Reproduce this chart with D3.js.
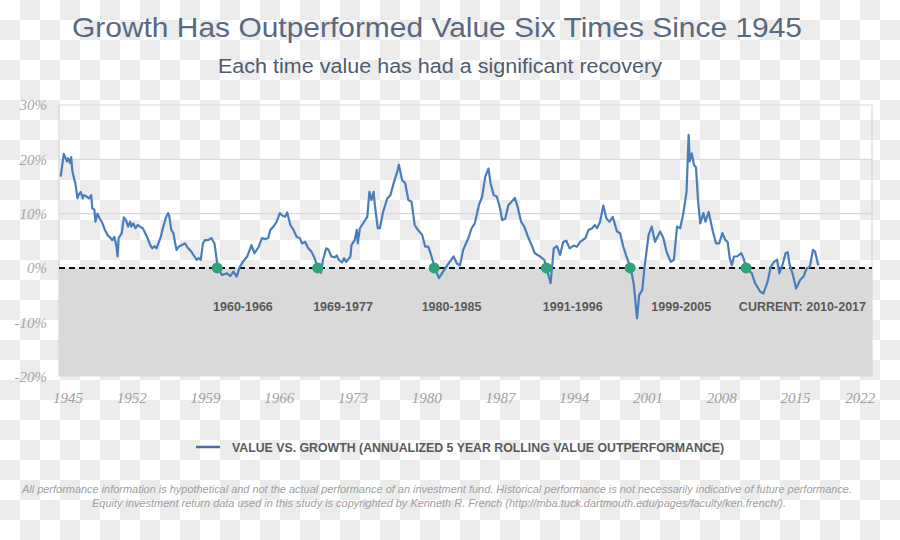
<!DOCTYPE html>
<html>
<head>
<meta charset="utf-8">
<script src="https://cdn.jsdelivr.net/npm/d3@7/dist/d3.min.js"></script>
<style>
  html, body { margin: 0; padding: 0; background: #fff; }
  svg { display: block; }
</style>
</head>
<body>
<svg id="chart" width="900" height="540"></svg>
<script>
// ---------------- DATA ----------------
const title = "Growth Has Outperformed Value Six Times Since 1945";
const subtitle = "Each time value has had a significant recovery";
const seriesName = "VALUE VS. GROWTH (ANNUALIZED 5 YEAR ROLLING VALUE OUTPERFORMANCE)";
const footnotes = [
  "All performance information is hypothetical and not the actual performance of an investment fund. Historical performance is not necessarily indicative of future performance.",
  "Equity investment return data used in this study is copyrighted by Kenneth R. French (http://mba.tuck.dartmouth.edu/pages/faculty/ken.french/)."
];
const xTicks = [1945, 1952, 1959, 1966, 1973, 1980, 1987, 1994, 2001, 2008, 2015, 2022];
const yTicks = [-20, -10, 0, 10, 20, 30];

const years = [
1945.3,1945.6,1945.9,1946.0,1946.2,1946.3,1946.4,1946.6,1946.7,1946.9,
1947.0,1947.2,1947.4,1947.5,1947.8,1948.0,1948.2,1948.3,1948.5,1948.6,
1948.8,1949.0,1949.2,1949.5,1949.8,1950.0,1950.2,1950.4,1950.6,1950.7,
1950.8,1951.1,1951.3,1951.5,1951.7,1951.9,1952.0,1952.2,1952.4,1952.6,
1952.9,1953.1,1953.5,1953.8,1954.0,1954.2,1954.4,1954.8,1955.0,1955.3,
1955.5,1955.6,1955.8,1956.0,1956.2,1956.3,1956.5,1956.8,1957.1,1957.4,
1957.7,1958.0,1958.2,1958.4,1958.6,1958.8,1959.0,1959.3,1959.6,1959.9,
1960.2,1960.6,1961.1,1961.4,1961.7,1962.0,1962.3,1962.6,1963.0,1963.3,
1963.4,1963.7,1964.1,1964.4,1964.7,1965.0,1965.2,1965.5,1965.8,1966.1,
1966.3,1966.6,1966.8,1967.1,1967.4,1967.7,1968.0,1968.2,1968.5,1968.8,
1969.1,1969.4,1969.7,1970.0,1970.2,1970.5,1970.7,1971.0,1971.3,1971.5,
1971.7,1972.0,1972.2,1972.4,1972.8,1972.9,1973.2,1973.4,1973.5,1973.7,
1974.1,1974.4,1974.6,1974.8,1975.0,1975.1,1975.4,1975.6,1975.9,1976.3,
1976.6,1976.9,1977.2,1977.4,1977.7,1978.0,1978.3,1978.6,1978.9,1979.2,
1979.6,1979.9,1980.2,1980.5,1980.8,1981.2,1981.6,1982.1,1982.6,1982.9,
1983.2,1983.5,1984.0,1984.3,1984.6,1985.0,1985.3,1985.6,1985.9,1986.1,
1986.4,1986.7,1987.0,1987.2,1987.5,1987.8,1988.1,1988.4,1988.7,1989.0,
1989.3,1989.7,1990.0,1990.3,1990.8,1991.2,1991.4,1991.8,1992.1,1992.4,
1992.7,1993.0,1993.3,1993.6,1994.0,1994.3,1994.6,1995.1,1995.4,1995.7,
1996.0,1996.2,1996.5,1996.8,1997.1,1997.4,1997.7,1998.1,1998.4,1998.7,
1999.0,1999.4,1999.7,2000.0,2000.2,2000.5,2000.7,2001.1,2001.4,2001.7,
2002.2,2002.5,2002.8,2003.2,2003.5,2003.8,2004.1,2004.4,2004.7,2004.9,
2005.0,2005.2,2005.4,2005.6,2005.8,2006.0,2006.3,2006.5,2006.8,2007.2,
2007.5,2007.8,2008.1,2008.4,2008.6,2008.8,2009.0,2009.2,2009.5,2009.9,
2010.1,2010.4,2010.9,2011.2,2011.7,2012.0,2012.4,2012.7,2013.0,2013.3,
2013.5,2013.8,2014.1,2014.3,2014.5,2014.8,2015.1,2015.5,2015.8,2016.1,
2016.4,2016.7,2016.9,2017.2
];
const values = [
16.8,21.0,19.6,20.2,19.3,20.4,18.0,16.2,15.6,12.8,
13.4,14.0,12.8,13.4,13.1,12.8,13.4,11.0,10.7,8.5,
10.0,9.1,8.5,7.0,5.9,5.6,5.1,5.7,3.9,2.1,
5.5,6.4,9.3,8.8,7.6,8.5,7.6,8.2,7.3,7.9,
7.5,7.3,5.7,4.2,3.6,4.0,3.6,5.7,7.3,9.3,
10.1,9.6,7.0,6.4,4.2,3.3,3.9,4.2,4.5,3.6,
3.0,2.1,1.5,1.8,1.5,4.5,5.1,5.1,5.5,4.5,
0.2,-1.3,-1.0,-1.5,-0.7,-1.6,0.2,1.1,2.1,3.6,
4.2,2.7,3.9,5.5,5.3,5.5,7.0,7.6,8.5,10.1,
9.7,9.4,10.2,7.9,7.0,5.7,5.5,4.5,4.8,3.6,
3.0,1.8,0.1,-0.9,1.5,3.6,3.4,2.1,1.9,2.3,
1.5,1.0,1.8,1.1,2.1,4.2,5.1,7.0,4.5,7.3,
8.5,9.4,14.0,12.5,14.0,11.9,7.3,7.3,10.3,12.8,
13.4,15.6,17.4,19.0,16.2,15.6,12.5,12.2,7.9,7.0,
6.1,3.9,3.9,2.1,0.1,-1.9,-0.7,0.8,2.1,0.8,
0.5,3.3,5.5,7.3,8.2,11.6,13.1,16.8,18.3,15.6,
13.4,13.1,11.0,8.8,9.1,11.6,12.2,12.9,11.0,8.5,
7.6,5.5,4.2,2.7,2.1,1.5,0.0,-2.8,3.6,4.0,
2.4,4.8,5.0,3.6,4.1,3.9,4.8,5.5,7.0,7.2,
7.9,7.3,8.5,11.5,9.1,8.5,9.4,6.7,6.4,3.9,
2.1,0.0,-3.1,-9.3,-5.0,-4.1,-0.1,6.1,7.6,4.8,
6.7,5.5,3.0,1.1,1.5,7.6,7.3,10.1,14.0,24.5,
19.6,21.1,19.0,18.5,12.2,8.2,10.1,8.5,10.3,6.7,
4.5,4.5,6.4,5.1,4.8,1.8,0.5,2.1,2.1,2.7,
1.8,-0.1,-1.0,-2.8,-4.4,-4.7,-2.5,0.2,1.1,1.5,
-1.0,0.5,2.7,2.9,0.5,-1.3,-3.8,-2.2,-1.6,-0.1,
0.2,3.3,3.0,0.5
];

// periods of value outperformance after growth runs
const markerYears = [1960.15, 1969.7, 1980.75, 1991.4, 1999.35, 2010.35];
const periodLabels = ["1960-1966", "1969-1977", "1980-1985", "1991-1996", "1999-2005", "CURRENT: 2010-2017"];
const periodLabelYears = [1962.6, 1972.1, 1982.4, 1993.9, 2004.2, 2015.7];
const periodLabelValue = -7.35;

// ---------------- CHART ----------------
const svg = d3.select("#chart");
const W = 900, H = 540;
const plot = { left: 59, right: 872, top: 105, bottom: 376.5 };

// checkerboard background (transparency grid of the source image)
const defs = svg.append("defs");
const pat = defs.append("pattern").attr("id", "checker")
  .attr("width", 40).attr("height", 40).attr("patternUnits", "userSpaceOnUse");
pat.append("rect").attr("width", 40).attr("height", 40).attr("fill", "#ffffff");
pat.append("rect").attr("x", 20).attr("y", 0).attr("width", 20).attr("height", 20).attr("fill", "#ececec");
pat.append("rect").attr("x", 0).attr("y", 20).attr("width", 20).attr("height", 20).attr("fill", "#ececec");
svg.append("rect").attr("width", W).attr("height", H).attr("fill", "url(#checker)");

const x = d3.scaleLinear().domain([1945, 2022.35]).range([57.5, 872.5]);
const y = d3.scaleLinear().domain([-20, 30]).range([plot.bottom, plot.top]);

// negative shaded region
svg.append("rect")
  .attr("x", plot.left).attr("y", y(0))
  .attr("width", plot.right - plot.left).attr("height", y(-20) - y(0))
  .attr("fill", "#d9d9d9");

// gridlines
svg.append("g").selectAll("line").data(yTicks.filter(d => d > 0)).join("line")
  .attr("x1", plot.left).attr("x2", plot.right)
  .attr("y1", d => y(d)).attr("y2", d => y(d))
  .attr("stroke", "#d9d9d9").attr("stroke-width", 1.2);

// plot border (left / right)
svg.append("line").attr("x1", plot.left).attr("x2", plot.left).attr("y1", plot.top).attr("y2", plot.bottom)
  .attr("stroke", "#d9d9d9").attr("stroke-width", 1.2);
svg.append("line").attr("x1", plot.right).attr("x2", plot.right).attr("y1", plot.top).attr("y2", plot.bottom)
  .attr("stroke", "#d9d9d9").attr("stroke-width", 1.2);

// y axis labels
const yAxis = d3.axisLeft(y).tickValues(yTicks).tickSize(0).tickPadding(0)
  .tickFormat(d => d + "%");
const yg = svg.append("g").attr("transform", `translate(47,0)`).call(yAxis);
yg.select(".domain").remove();
yg.selectAll("text")
  .attr("font-family", "'Liberation Serif', serif")
  .attr("font-style", "italic").attr("font-size", 15).attr("fill", "#a6a6a6");

// x axis labels
const xAxis = d3.axisBottom(x).tickValues(xTicks).tickSize(0).tickPadding(0)
  .tickFormat(d3.format("d"));
const xg = svg.append("g").attr("transform", `translate(0,392)`).call(xAxis);
xg.select(".domain").remove();
xg.selectAll("text")
  .attr("font-family", "'Liberation Serif', serif")
  .attr("font-style", "italic").attr("font-size", 15).attr("fill", "#a0a0a0")
  .attr("dx", (d, i) => i === 0 ? 10 : (i === xTicks.length - 1 ? -9 : 0));

// zero dashed line
svg.append("line")
  .attr("x1", plot.left).attr("x2", plot.right)
  .attr("y1", y(0)).attr("y2", y(0))
  .attr("stroke", "#111").attr("stroke-width", 2).attr("stroke-dasharray", "6,4");

// series line
const data = years.map((yr, i) => ({ yr, v: values[i] }));
const line = d3.line().x(d => x(d.yr)).y(d => y(d.v));
svg.append("path").datum(data)
  .attr("d", line).attr("fill", "none")
  .attr("stroke", "#4a7ebb").attr("stroke-width", 2.2)
  .attr("stroke-linejoin", "round");

// markers
svg.append("g").selectAll("circle").data(markerYears).join("circle")
  .attr("cx", d => x(d)).attr("cy", y(0)).attr("r", 5.5)
  .attr("fill", "#2ea37c");

// period labels
svg.append("g").selectAll("text").data(periodLabels).join("text")
  .attr("x", (d, i) => x(periodLabelYears[i]))
  .attr("y", y(periodLabelValue))
  .attr("text-anchor", "middle").attr("dominant-baseline", "middle")
  .attr("font-family", "'Liberation Sans', Arial, sans-serif")
  .attr("font-weight", "bold").attr("font-size", 12.5).attr("fill", "#595959")
  .text(d => d);

// title
svg.append("text").attr("x", 437).attr("y", 37).attr("text-anchor", "middle")
  .attr("font-family", "'Liberation Sans', Arial, sans-serif").attr("font-size", 28)
  .attr("fill", "#5a6880").attr("textLength", 730).attr("lengthAdjust", "spacingAndGlyphs")
  .text(title);
svg.append("text").attr("x", 440).attr("y", 73).attr("text-anchor", "middle")
  .attr("font-family", "'Liberation Sans', Arial, sans-serif").attr("font-size", 20)
  .attr("fill", "#4f5b6e").attr("textLength", 444).attr("lengthAdjust", "spacingAndGlyphs")
  .text(subtitle);

// legend
svg.append("line").attr("x1", 196).attr("x2", 220).attr("y1", 447).attr("y2", 447)
  .attr("stroke", "#4a6f9e").attr("stroke-width", 2.5);
svg.append("text").attr("x", 232).attr("y", 451.5)
  .attr("font-family", "'Liberation Sans', Arial, sans-serif").attr("font-weight", "bold")
  .attr("font-size", 12).attr("fill", "#595959")
  .attr("textLength", 492).attr("lengthAdjust", "spacingAndGlyphs")
  .text(seriesName);

// footnotes
const fnX = [437, 439];
const fnLen = [830, 694];
svg.append("g").selectAll("text").data(footnotes).join("text")
  .attr("x", (d, i) => fnX[i]).attr("y", (d, i) => 493 + i * 14)
  .attr("text-anchor", "middle")
  .attr("font-family", "'Liberation Sans', Arial, sans-serif").attr("font-style", "italic")
  .attr("font-size", 10.5).attr("fill", "#a0a0a0")
  .attr("textLength", (d, i) => fnLen[i]).attr("lengthAdjust", "spacingAndGlyphs")
  .text(d => d);
</script>
</body>
</html>
